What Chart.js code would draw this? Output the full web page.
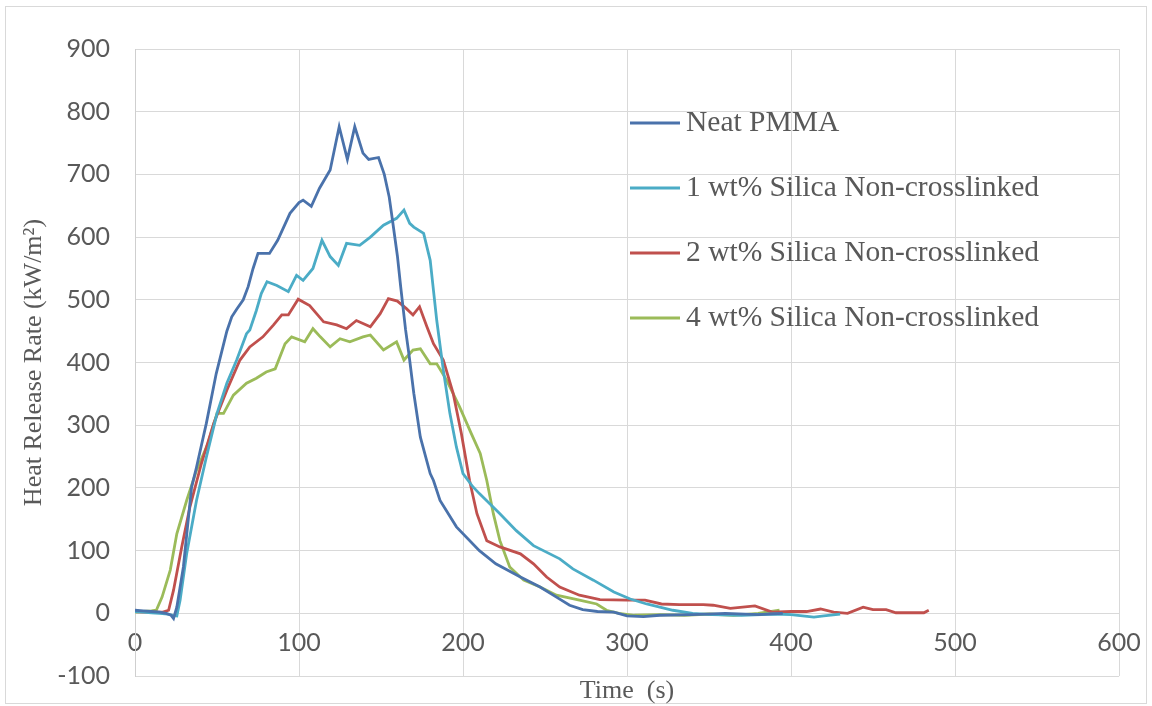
<!DOCTYPE html>
<html>
<head>
<meta charset="utf-8">
<script src="https://cdn.jsdelivr.net/npm/chart.js@4.4.1/dist/chart.umd.min.js"></script>
<style>
  html, body { margin: 0; padding: 0; background: #fff; }
  #wrap { width: 1152px; height: 706px; }
</style>
</head>
<body>
<div id="wrap"><canvas id="hrrChart" width="1152" height="706"></canvas></div>
<script>
// values
var seriesNames = [
  'Neat PMMA',
  '1 wt% Silica Non-crosslinked',
  '2 wt% Silica Non-crosslinked',
  '4 wt% Silica Non-crosslinked'
];

var neatTime = [0, 5, 10, 15, 19, 22, 23.5, 25.5, 29.5, 34.5, 37.5, 43.5, 49.5, 56, 59, 62, 66, 69, 72, 75, 82, 87, 94.5, 100, 102.5, 107.5, 112.5, 119, 124.5, 129.5, 134, 139, 142.5, 148.5, 152, 155, 157, 160, 162, 165, 167, 170, 174, 180, 182, 186, 196, 210, 220, 235, 247, 257, 265, 273, 282, 292, 300, 310, 320, 340, 360, 380, 395];
var neatHrr  = [5, 4, 3, 2, 0, -3, -8, 10, 74, 201, 233, 303, 382, 450, 473, 485, 500, 521, 550, 574, 574, 595, 638, 655, 659, 649, 678, 707, 776, 724, 776, 734, 724, 727, 700, 664, 627, 570, 521, 452, 414, 351, 281, 223, 212, 180, 138, 100, 79, 58, 42, 26, 13, 6, 3, 2, -4, -5, -3, -2, 0, -2, 0];

var oneTime = [0, 5, 10, 15, 20, 23, 25.5, 27.5, 31.5, 37.5, 43.5, 50, 56, 62, 68, 70, 74, 77, 80.5, 86.5, 93.5, 98.5, 102.5, 108.5, 114, 119, 124, 129, 137, 143.5, 151.5, 159.5, 164, 167.5, 170, 176, 180, 184, 188, 192, 196, 200, 206, 210, 222.5, 232.5, 243, 259, 267, 279.5, 292, 302, 312, 328, 340, 352, 370, 390, 400, 414, 420, 430];
var oneHrr  = [3, 2, 1, 0, -1, -3, -4, 21, 95, 180, 249, 319, 367, 404, 446, 452, 483, 510, 529, 523, 513, 539, 531, 550, 595, 569, 555, 590, 587, 600, 619, 630, 643, 622, 616, 606, 563, 467, 388, 319, 265, 223, 202, 191, 159, 132, 108, 87, 71, 53, 34, 23, 15, 5, 0, -2, -3, -1, -2, -6, -4, -1];

var twoTime = [0, 5, 10, 15, 17, 20.5, 23.5, 28.5, 33.5, 40.5, 48, 56, 64, 70, 78, 84.5, 89.5, 93.5, 99.5, 106.5, 115, 123, 129, 135, 143.5, 149.5, 154.5, 160, 165.5, 169.5, 173.5, 178, 182, 188, 194, 199, 204, 208.5, 214.5, 222.5, 235, 243, 251, 259, 271, 283.5, 300, 311, 321, 332, 346.5, 352.5, 363, 378, 388.5, 400, 409.5, 418, 426, 434.5, 444, 450, 458, 464, 481, 484];
var twoHrr  = [3, 2, 2, 2, 2, 5, 37, 106, 170, 239, 303, 356, 404, 425, 441, 460, 476, 476, 501, 491, 465, 460, 454, 467, 457, 478, 502, 498, 486, 476, 489, 457, 430, 404, 351, 287, 212, 159, 116, 106, 95, 79, 58, 42, 29, 22, 21, 21, 15, 14, 14, 13, 8, 12, 2, 3, 3, 7, 2, 0, 10, 6, 6, 1, 1, 5];

var fourTime = [0, 5, 10, 13, 16.5, 21.5, 25.5, 31.5, 37.5, 44.5, 50, 54, 60, 68, 74, 80, 85.5, 91.5, 95.5, 103.5, 108.5, 113, 119, 125, 131, 139, 143.5, 151.5, 159.5, 164, 169.5, 174, 180, 184, 190, 198, 205, 210.5, 214.5, 218.5, 222.5, 228.5, 237, 247, 257, 271, 281.5, 287.5, 295, 304.5, 320, 335, 350, 365, 380, 393];
var fourHrr  = [2, 3, 4, 5, 26, 69, 127, 180, 228, 271, 319, 319, 348, 367, 375, 385, 390, 430, 441, 433, 454, 441, 425, 438, 433, 441, 444, 420, 433, 404, 420, 422, 398, 398, 372, 329, 287, 255, 212, 159, 116, 74, 53, 42, 29, 21, 15, 5, 0, -3, -2, -3, -1, -3, 0, 5];

var seriesColors = ['#4a72ab', '#4bacc6', '#c0504d', '#9bbb59'];
var xTicks = [0, 100, 200, 300, 400, 500, 600];
var yTicks = [-100, 0, 100, 200, 300, 400, 500, 600, 700, 800, 900];

var textGray = '#595959';
var gridGray = '#d9d9d9';
var serifFont = '"Liberation Serif", "Times New Roman", serif';
var tickFont = 'Lato, "Liberation Sans", sans-serif';

function pairUp(ts, vs) {
  return ts.map(function(t, i) { return { x: t, y: vs[i] }; });
}

var allSeries = [
  pairUp(neatTime, neatHrr),
  pairUp(oneTime, oneHrr),
  pairUp(twoTime, twoHrr),
  pairUp(fourTime, fourHrr)
];

var datasets = allSeries.map(function(pts, i) {
  return {
    label: seriesNames[i],
    data: pts,
    showLine: true,
    borderColor: seriesColors[i],
    backgroundColor: seriesColors[i],
    borderWidth: 2.8,
    pointRadius: 0,
    tension: 0
  };
});

// outer frame like the pasted excel chart
var frame = {
  id: 'frame',
  beforeDraw: function(chart) {
    var ctx = chart.ctx;
    ctx.save();
    ctx.fillStyle = '#fff';
    ctx.fillRect(0, 0, chart.width, chart.height);
    ctx.strokeStyle = gridGray;
    ctx.lineWidth = 1;
    ctx.strokeRect(5.5, 6.5, 1141, 697);
    ctx.restore();
  }
};

// legend sits inside the plot, right of the peaks
var insideLegend = {
  id: 'insideLegend',
  afterDatasetsDraw: function(chart) {
    var ctx = chart.ctx;
    var a = chart.chartArea;
    ctx.save();
    ctx.font = '29.5px ' + serifFont;
    ctx.textBaseline = 'middle';
    ctx.textAlign = 'left';
    chart.data.datasets.forEach(function(ds, i) {
      var y = a.top + 74 + i * 65;
      ctx.strokeStyle = ds.borderColor;
      ctx.lineWidth = 2.8;
      ctx.beginPath();
      ctx.moveTo(a.left + 495, y);
      ctx.lineTo(a.left + 545, y);
      ctx.stroke();
      ctx.fillStyle = textGray;
      ctx.fillText(ds.label, a.left + 551, y);
    });
    ctx.restore();
  }
};

new Chart(document.getElementById('hrrChart'), {
  type: 'scatter',
  data: { datasets: datasets },
  options: {
    responsive: false,
    devicePixelRatio: 1,
    animation: false,
    layout: { padding: { top: 49, right: 33, left: 0, bottom: 0 } },
    plugins: {
      legend: { display: false },
      tooltip: { enabled: false },
      title: {
        display: true,
        position: 'bottom',
        fullSize: false,
        text: 'Time  (s)',
        color: textGray,
        font: { family: serifFont, size: 26, weight: 'normal', lineHeight: 1.15 },
        padding: { top: 0, bottom: 0 }
      }
    },
    scales: {
      x: {
        type: 'linear',
        position: { y: 0 },
        min: 0,
        max: 600,
        afterFit: function(s) {
          s.height = 0;
          s.paddingLeft = 0;
          s.paddingRight = 0;
        },
        afterBuildTicks: function(s) { s.ticks = xTicks.map(function(v) { return { value: v }; }); },
        grid: { color: gridGray, drawTicks: false },
        border: { color: gridGray },
        ticks: {
          color: textGray,
          padding: 15,
          font: { family: tickFont, size: 25 }
        }
      },
      y: {
        min: -100,
        max: 900,
        afterFit: function(s) {
          s.width = 135;
          s.paddingTop = 0;
          s.paddingBottom = 0;
        },
        afterBuildTicks: function(s) { s.ticks = yTicks.map(function(v) { return { value: v }; }); },
        grid: { color: gridGray, drawTicks: false },
        border: { color: '#cfcfcf' },
        ticks: {
          color: textGray,
          padding: 25,
          font: { family: tickFont, size: 25 }
        },
        title: {
          display: true,
          text: 'Heat Release Rate (kW/m\u00b2)',
          color: textGray,
          padding: { top: 19, bottom: 0 },
          font: { family: serifFont, size: 26, weight: 'normal' }
        }
      }
    }
  },
  plugins: [frame, insideLegend]
});
</script>
</body>
</html>
